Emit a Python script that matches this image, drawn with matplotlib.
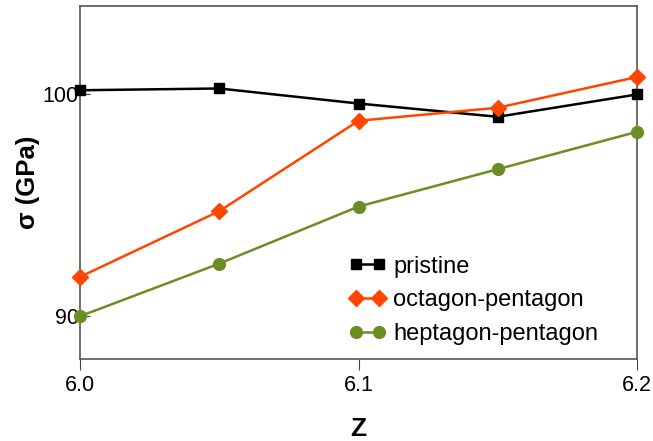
import matplotlib
matplotlib.use("Agg")
import matplotlib.pyplot as plt

plt.rcParams['font.family'] = ['Liberation Sans', 'DejaVu Sans']

z = [6.0, 6.05, 6.1, 6.15, 6.2]
pristine = [100.19, 100.27, 99.59, 98.99, 100.0]
octagon = [91.75, 94.72, 98.81, 99.40, 100.79]
heptagon = [89.97, 92.35, 94.93, 96.62, 98.31]

fig = plt.figure(figsize=(6.53, 4.41), dpi=100)
ax = fig.add_axes([80/653, 1 - 358.7/441, (637-80)/653, (358.7-6)/441])

ax.plot(z, pristine, color='black', marker='s', markersize=7.5, linewidth=1.8, label='pristine', clip_on=False, zorder=3)
ax.plot(z, octagon, color='#FF4500', marker='D', markersize=8, linewidth=1.8, label='octagon-pentagon', clip_on=False, zorder=3)
ax.plot(z, heptagon, color='#6B8E23', marker='o', markersize=8.5, linewidth=1.8, label='heptagon-pentagon', clip_on=False, zorder=3)

ax.set_xlim(6.0, 6.2)
ax.set_ylim(88.05, 104.0)
ax.set_xticks([6.0, 6.1, 6.2])
ax.set_xticklabels(['6.0', '6.1', '6.2'])
ax.set_yticks([90, 100])
ax.set_yticklabels(['90', '100'])
ax.tick_params(axis='y', direction='in', length=7, pad=1, labelsize=15.5, color='#444444')
ax.tick_params(axis='x', direction='out', length=8, pad=4, labelsize=15.5, color='#444444')
for s in ax.spines.values():
    s.set_color('#555555')
    s.set_linewidth(1.2)

ax.set_xlabel('Z', fontsize=19, fontweight='bold', labelpad=15)
ax.set_ylabel('σ (GPa)', fontsize=18.5, fontweight='bold', labelpad=2)

leg = ax.legend(loc='lower left', bbox_to_anchor=(0.458, -0.002), frameon=False, fontsize=17,
                numpoints=2, handlelength=1.56, handletextpad=0.3, labelspacing=0.5, borderaxespad=0.2)

fig.savefig('out.png', dpi=100)
